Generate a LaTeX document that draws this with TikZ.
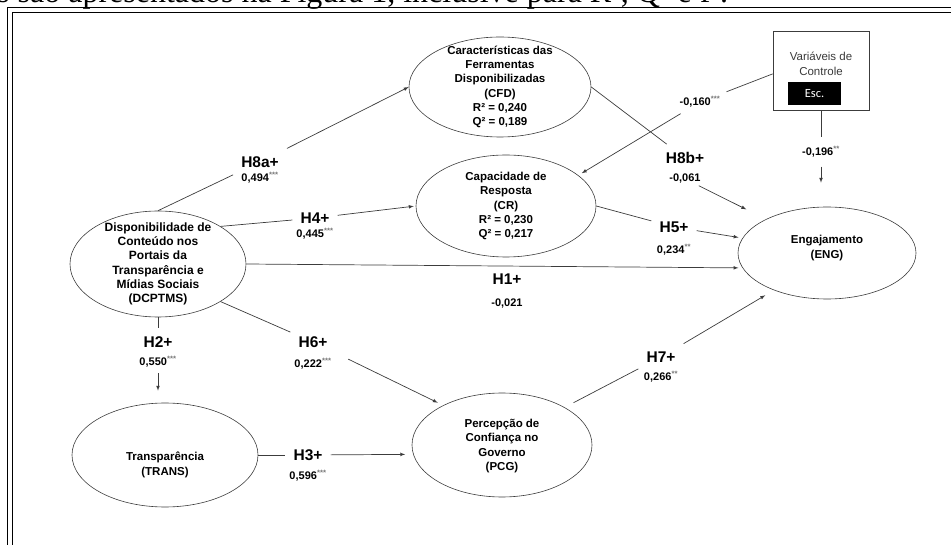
\documentclass[tikz,border=0pt]{standalone}
\usepackage{fontspec}
\setmainfont{Liberation Sans}
\newfontfamily\introfont{Liberation Serif}
\newfontfamily\escfont{Carlito}
\usepackage{tikz}
\usetikzlibrary{arrows}
\usetikzlibrary{shapes.geometric, positioning}
\definecolor{linegray}{HTML}{3C3C3C}
\definecolor{stargray}{HTML}{777777}
\definecolor{ctrlgray}{HTML}{3A3A3A}
\newcommand{\sig}[1]{\textsuperscript{\textcolor{stargray}{#1}}}

\begin{document}
\begin{tikzpicture}[x=1pt,y=-1pt]
\tikzset{font=\fontsize{11.5}{14.3}\selectfont\bfseries}
\tikzset{>=latex}
\tikzset{lv/.style={draw=linegray, ellipse, line width=0.6pt}}
\tikzset{lvtext/.style={align=center, inner sep=0pt}}
\tikzset{hyp/.style={font=\fontsize{15.5}{17}\selectfont\bfseries, inner sep=8pt}}
\tikzset{coef/.style={font=\fontsize{11}{12}\selectfont\bfseries, inner sep=2pt}}
\tikzset{link/.style={draw=linegray, line width=0.7pt}}
\useasboundingbox (0,0) rectangle (951,545);
\clip (0,0) rectangle (951,545);
\node[anchor=base west, inner sep=0pt] (intro) at (-3,3) {\introfont\mdseries\fontsize{32}{34}\selectfont s são apresentados na Figura 1, inclusive para R², Q² e f².};
\draw[line width=1.8pt] (7.5,560) -- (7.5,7.5) -- (960,7.5);
\draw[line width=0.8pt] (12,560) -- (12,12) -- (960,12);

\node[lv, minimum width=182, minimum height=100] (cfd) at (500,87) {};
\node[lvtext] (cfdtext) at (cfd) {Características das\\Ferramentas\\Disponibilizadas\\(CFD)\\R² = 0,240\\Q² = 0,189};
\node[lv, minimum width=180, minimum height=102] (cr) at (506,206) {};
\node[lvtext] (crtext) at (cr) {Capacidade de\\Resposta\\(CR)\\R² = 0,230\\Q² = 0,217};
\node[lv, minimum width=178, minimum height=92] (eng) at (827,253) {};
\node[lvtext] (engtext) at (827,248) {Engajamento\\(ENG)};
\node[lv, minimum width=176, minimum height=106] (dcptms) at (158,264) {};
\node[lvtext, font=\fontsize{12}{14.3}\selectfont\bfseries] (dcptmstext) at (dcptms) {Disponibilidade de\\Conteúdo nos\\Portais da\\Transparência e\\Mídias Sociais\\(DCPTMS)};
\node[lv, minimum width=186, minimum height=104] (trans) at (165,455) {};
\node[lvtext] (transtext) at (165,465) {Transparência\\(TRANS)};
\node[lv, minimum width=180, minimum height=104] (pcg) at (502,445) {};
\node[lvtext] (pcgtext) at (502,446) {Percepção de\\Confiança no\\Governo\\(PCG)};

\node[draw=linegray, line width=0.6pt, minimum width=96, minimum height=79] (ctrl) at (821,70.5) {};
\node[align=center, inner sep=0pt, text=ctrlgray, font=\mdseries\fontsize{11.5}{15}\selectfont] (ctrltext) at (821,64) {Variáveis de\\Controle};
\node[fill=black, text=white, inner sep=0pt, minimum width=53, minimum height=23, font=\escfont\mdseries\fontsize{12.5}{14}\selectfont] (esc) at (814.5,93.5) {Esc.};

\node[hyp] (h8a) at (260,162) {H8a+};
\node[coef, below=8pt of h8a.center] (c8a) {0,494\sig{***}};
\node[hyp] (h4) at (315,218) {H4+};
\node[coef, below=8pt of h4.center] (c4) {0,445\sig{***}};
\node[hyp, inner sep=2pt] (h1) at (507,279) {H1+};
\node[coef, below=18pt of h1.center] (c1) {-0,021};
\node[hyp] (h5) at (674,227) {H5+};
\node[coef, below=15pt of h5.center] (c5) {0,234\sig{**}};
\node[hyp] (h8b) at (685,158) {H8b+};
\node[coef, below=14pt of h8b.center] (c8b) {-0,061};
\node[hyp] (h2) at (158,342) {H2+};
\node[coef, below=12pt of h2.center] (c2) {0,550\sig{***}};
\node[hyp] (h6) at (313,342) {H6+};
\node[coef, below=14pt of h6.center] (c6) {0,222\sig{***}};
\node[hyp] (h3) at (308,455) {H3+};
\node[coef, below=13pt of h3.center] (c3) {0,596\sig{***}};
\node[hyp] (h7) at (661,357) {H7+};
\node[coef, below=12pt of h7.center] (c7) {0,266\sig{**}};
\node[coef, inner sep=6pt] (c160) at (700,102) {-0,160\sig{***}};
\node[coef, inner sep=9pt] (c196) at (821,152) {-0,196\sig{**}};

\draw[link] (dcptms.north) -- (h8a);
\draw[link,->] (h8a) -- (cfd.west);
\draw[link] (dcptms.31) -- (h4);
\draw[link,->,shorten >=2pt] (h4) -- (cr.west);
\draw[link,->,shorten >=4pt] (dcptms.east) -- (eng.190);
\draw[link] (cr.east) -- (h5);
\draw[link,->,shorten >=4pt] (h5) -- (eng.170);
\draw[link] (cfd.east) -- (h8b);
\draw[link,->,shorten >=22pt] (c8b) -- (eng.151);
\draw[link] (dcptms.south) -- (h2);
\draw[link,->,shorten <=4pt,shorten >=12pt] (c2) -- (c2 |- trans.north);
\draw[link] (dcptms.-31) -- (h6);
\draw[link,->,shorten <=14pt,shorten >=6pt] (h6) -- (pcg.146);
\draw[link] (trans.east) -- (h3);
\draw[link,->,shorten >=8pt] (h3) -- (pcg.186);
\draw[link,shorten <=10pt] (pcg.31) -- (h7);
\draw[link,->,shorten >=10pt] (h7) -- (eng.215);
\draw[link] (ctrl.184) -- (c160);
\draw[link,->,shorten >=4pt] (c160) -- (cr.23);
\draw[link] (ctrl.south) -- (c196);
\draw[link,->,shorten >=24pt] (c196) -- (c196 |- eng.north);
\end{tikzpicture}
\end{document}
